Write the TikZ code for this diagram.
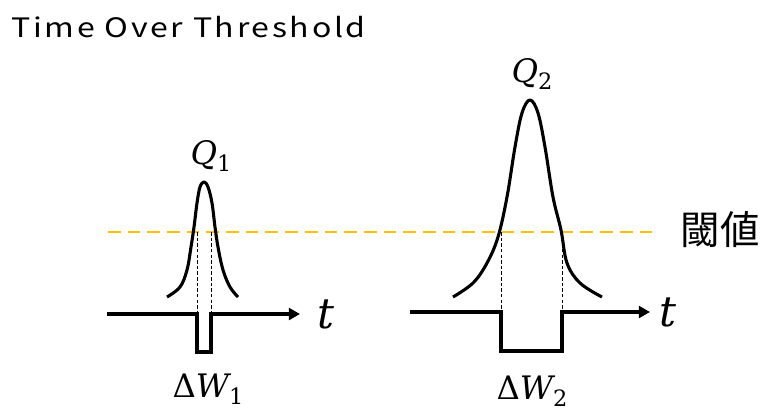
\documentclass[tikz,border=0pt]{standalone}
\usepackage{fontspec}
\usepackage{tikz}
\usetikzlibrary{arrows.meta}
\newfontfamily\jpfont{Noto Sans CJK JP}
\newfontfamily\jptitlefont[LetterSpace=10, FakeStretch=1.2]{Noto Sans CJK JP}
\newfontfamily\symfont{DejaVu Serif}
\definecolor{thresholdOrange}{HTML}{FFC000}
% italic symbol with upright subscript
\newcommand{\symlabel}[2]{{\symfont\itshape #1}\raisebox{-0.22em}{\fontsize{16}{18}\symfont #2}}

\begin{document}
\begin{tikzpicture}[x=0.025cm, y=-0.025cm, every node/.style={inner sep=0pt},
  pulse/.style={line width=2.2pt, line join=round},
  digital/.style={line width=2.2pt, -{Triangle[length=8pt,width=8.5pt]}},
  guide/.style={dash pattern=on 2.5pt off 1.5pt, line width=0.45pt},
  threshold/.style={dash pattern=on 9pt off 5pt, line width=1.8pt, color=thresholdOrange},
  symbol/.style={font=\fontsize{23}{26}\selectfont}]
\useasboundingbox (0,0) rectangle (764,416);
\node[anchor=west, font=\jptitlefont\fontsize{19}{21}\selectfont] (title) at (11,27) {Time Over Threshold};

% threshold level
\coordinate (thA) at (108,232);
\coordinate (thB) at (652,232);
\draw[threshold] (thA) -- (thB);
\node[font=\jpfont\fontsize{28}{30}\selectfont] (thlabel) at (720,230) {閾値};

% analog pulses
\draw[pulse] plot[smooth, tension=0.6] coordinates {(167,297) (180,287) (187,270) (191,247) (194,227) (197,203) (200,187) (204,182) (208,187) (212,203) (215,227) (218,247) (223,270) (230,287) (238,297)};
\draw[pulse] plot[smooth, tension=0.6] coordinates {(453,297) (473,283) (487,263) (498,237) (507,197) (515,147) (522,113) (530,100) (538,113) (545,147) (553,197) (561,230) (567,263) (580,283) (602,297)};

% crossings and digital outputs
\foreach \n/\a/\b/\y/\s/\e in {1/197/211/314/107/300, 2/501/562/312/410/650}{
  \coordinate (up\n a) at (\a,232);
  \coordinate (up\n b) at (\b,232);
  \coordinate (st\n) at (\s,\y);
  \coordinate (lo\n a) at (\a,\y);
  \coordinate (lo\n b) at (\b,\y);
  \coordinate (end\n) at (\e,\y);
  \draw[guide] (up\n a) -- (lo\n a);
  \draw[guide] (up\n b) -- (lo\n b);
}
\draw[digital] (st1) -- (lo1a) -- ++(0,38) -| (lo1b) -- (end1);
\draw[digital] (st2) -- (lo2a) -- ++(0,39) -| (lo2b) -- (end2);

% labels
\node[font=\fontsize{30}{32}\selectfont\symfont\itshape] (t1) at (326,314) {t};
\node[font=\fontsize{30}{32}\selectfont\symfont\itshape] (t2) at (668,312) {t};
\node[symbol] (q1) at (211,156) {\symlabel{Q}{1}};
\node[symbol] (q2) at (532,74) {\symlabel{Q}{2}};
\node[symbol] (w1) at (208,389) {\symlabel{{\upshape Δ}W}{1}};
\node[symbol] (w2) at (532,391) {\symlabel{{\upshape Δ}W}{2}};
\end{tikzpicture}
\end{document}
